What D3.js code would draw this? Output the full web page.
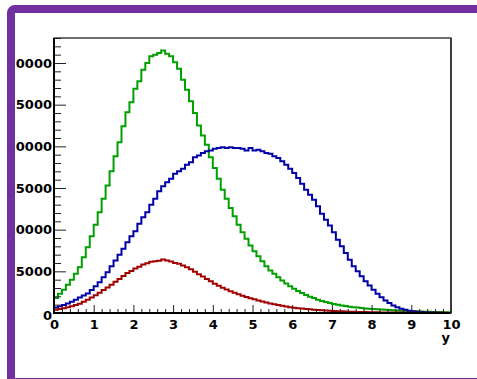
<!DOCTYPE html>
<html>
<head>
<meta charset="utf-8">
<script src="https://cdn.jsdelivr.net/npm/d3@7/dist/d3.min.js"></script>
<style>
  html, body { margin: 0; padding: 0; background: #fff; }
  svg { display: block; }
  .axis text { font-family: "DejaVu Sans", sans-serif; font-weight: bold; font-size: 13px; fill: #000; }
</style>
</head>
<body>
<svg id="chart" width="477" height="379"></svg>
<script>
// Histogram range and binning (100 bins over 0..10)
const xMin = 0, xMax = 10, nBins = 100;
const yMax = 33000;

const xMajorTicks = [0, 1, 2, 3, 4, 5, 6, 7, 8, 9, 10];
const yMajorTicks = [0, 5000, 10000, 15000, 20000, 25000, 30000];
const xTitle = "y";

// Bin contents, one value per bin
const greenCounts = [
  1800, 2300, 2800, 3400, 4000, 4700, 5500, 6700, 7900, 9200,
  10600, 12100, 13700, 15300, 17000, 18800, 20500, 22400, 24100, 25300,
  26900, 27800, 29200, 30000, 30800, 31000, 31200, 31500, 31100, 30800,
  30100, 29300, 28000, 26800, 25400, 24000, 22500, 21300, 20200, 18700,
  17400, 16100, 14800, 13700, 12600, 11600, 10600, 9700, 8900, 8100,
  7400, 6800, 6200, 5600, 5100, 4700, 4300, 3900, 3550, 3200,
  2900, 2650, 2400, 2150, 1950, 1800, 1600, 1450, 1330, 1200,
  1080, 990, 900, 830, 760, 700, 650, 600, 550, 510,
  470, 440, 410, 380, 350, 320, 300, 280, 260, 240,
  220, 200, 180, 165, 150, 135, 120, 110, 100, 90
];

const blueCounts = [
  650, 800, 950, 1150, 1350, 1600, 1850, 2100, 2350, 2750,
  3200, 3700, 4300, 4900, 5600, 6300, 7000, 7700, 8500, 9200,
  9800, 10700, 11500, 12100, 13000, 13700, 14600, 15200, 15700, 16100,
  16700, 17000, 17300, 17800, 18100, 18700, 18900, 19200, 19400, 19500,
  19700, 19800, 19900, 19800, 19900, 19800, 19800, 19700, 19500, 19800,
  19500, 19600, 19400, 19200, 19100, 18800, 18600, 18200, 17800, 17300,
  16800, 16200, 15500, 14800, 14200, 13600, 12800, 11900, 11200, 10500,
  9700, 8800, 8000, 7200, 6400, 5600, 5000, 4400, 3800, 3300,
  2800, 2300, 1900, 1500, 1200, 900, 700, 500, 380, 280,
  200, 150, 110, 90, 70, 50, 35, 25, 15, 10
];

const redCounts = [
  380, 480, 580, 700, 820, 960, 1120, 1350, 1600, 1850,
  2120, 2420, 2750, 3050, 3400, 3750, 4080, 4450, 4800, 5050,
  5350, 5560, 5820, 5980, 6150, 6200, 6280, 6420, 6300, 6180,
  6000, 5900, 5700, 5500, 5250, 4950, 4650, 4380, 4080, 3800,
  3520, 3260, 3040, 2830, 2620, 2420, 2250, 2080, 1920, 1780,
  1640, 1500, 1380, 1260, 1150, 1050, 950, 860, 780, 700,
  640, 580, 530, 480, 440, 400, 360, 330, 300, 270,
  240, 220, 200, 180, 165, 150, 135, 120, 110, 100,
  90, 82, 75, 68, 62, 56, 50, 46, 42, 38,
  35, 32, 29, 26, 24, 22, 20, 18, 16, 15
];

const series = [
  { name: "green", color: "#00a000", counts: greenCounts },
  { name: "blue",  color: "#0000a6", counts: blueCounts },
  { name: "red",   color: "#a00000", counts: redCounts }
];

const svg = d3.select("#chart");
const plot = { left: 54, right: 451, top: 38, bottom: 313 };

const x = d3.scaleLinear().domain([xMin, xMax]).range([plot.left, plot.right]);
const y = d3.scaleLinear().domain([0, yMax]).range([plot.bottom, plot.top]);

const binWidth = (xMax - xMin) / nBins;

// Histograms as stepped outlines
const step = d3.line()
  .x(d => x(d[0]))
  .y(d => y(d[1]))
  .curve(d3.curveStepAfter);

series.forEach(s => {
  const pts = s.counts.map((v, i) => [xMin + i * binWidth, v]);
  pts.push([xMax, s.counts[s.counts.length - 1]]);
  svg.append("path")
    .attr("d", step(pts))
    .attr("fill", "none")
    .attr("stroke", s.color)
    .attr("stroke-width", 2)
    .attr("stroke-linejoin", "miter");
});

// X axis: major ticks with labels, minor ticks every 0.2
const xMinor = d3.range(xMin, xMax + 1e-9, 0.2).filter(v => Math.abs(v - Math.round(v)) > 1e-6);
svg.append("g")
  .attr("class", "axis")
  .attr("transform", `translate(0,${plot.bottom})`)
  .call(d3.axisBottom(x).tickValues(xMinor).tickSizeInner(-4).tickSizeOuter(0).tickFormat(""))
  .call(g => g.select(".domain").remove());
svg.append("g")
  .attr("class", "axis")
  .attr("transform", `translate(0,${plot.bottom})`)
  .call(d3.axisBottom(x).tickValues(xMajorTicks).tickSizeInner(-8).tickSizeOuter(0).tickPadding(7).tickFormat(d3.format("d")))
  .call(g => g.select(".domain").remove());

// Y axis: major ticks every 5000, minor every 1000
const yMinor = d3.range(0, yMax + 1, 1000).filter(v => v % 5000 !== 0);
svg.append("g")
  .attr("class", "axis")
  .attr("transform", `translate(${plot.left},0)`)
  .call(d3.axisLeft(y).tickValues(yMinor).tickSizeInner(-7).tickSizeOuter(0).tickFormat(""))
  .call(g => g.select(".domain").remove());
const yAxis = svg.append("g")
  .attr("class", "axis")
  .attr("transform", `translate(${plot.left},0)`)
  .call(d3.axisLeft(y).tickValues(yMajorTicks).tickSizeInner(-12).tickSizeOuter(0).tickPadding(2).tickFormat(d3.format("d")))
  .call(g => g.select(".domain").remove());
yAxis.selectAll(".tick").filter(d => d === 0).select("text").attr("dy", "0.5em");

svg.selectAll(".axis .tick line").attr("stroke", "#222").attr("stroke-width", 1);

// Frame around the plotting area
svg.append("rect")
  .attr("x", plot.left).attr("y", plot.top)
  .attr("width", plot.right - plot.left).attr("height", plot.bottom - plot.top)
  .attr("fill", "none").attr("stroke", "#222").attr("stroke-width", 1.3);
svg.append("line")
  .attr("x1", plot.left).attr("x2", plot.left)
  .attr("y1", plot.top).attr("y2", plot.bottom + 1)
  .attr("stroke", "#000").attr("stroke-width", 2);
svg.append("line")
  .attr("x1", plot.left - 1).attr("x2", plot.right)
  .attr("y1", plot.bottom).attr("y2", plot.bottom)
  .attr("stroke", "#000").attr("stroke-width", 2);
svg.append("line")
  .attr("x1", plot.right).attr("x2", plot.right)
  .attr("y1", plot.top).attr("y2", plot.bottom)
  .attr("stroke", "#333").attr("stroke-width", 1.7);

// Axis title
svg.append("text")
  .attr("x", plot.right - 1)
  .attr("y", 342)
  .attr("text-anchor", "end")
  .style("font-family", "'DejaVu Sans', sans-serif")
  .style("font-weight", "bold")
  .style("font-size", "13px")
  .text(xTitle);

// Purple canvas border
svg.append("rect")
  .attr("x", 11).attr("y", 9)
  .attr("width", 490).attr("height", 373)
  .attr("rx", 4)
  .attr("fill", "none")
  .attr("stroke", "#7030a0")
  .attr("stroke-width", 8);
</script>
</body>
</html>
